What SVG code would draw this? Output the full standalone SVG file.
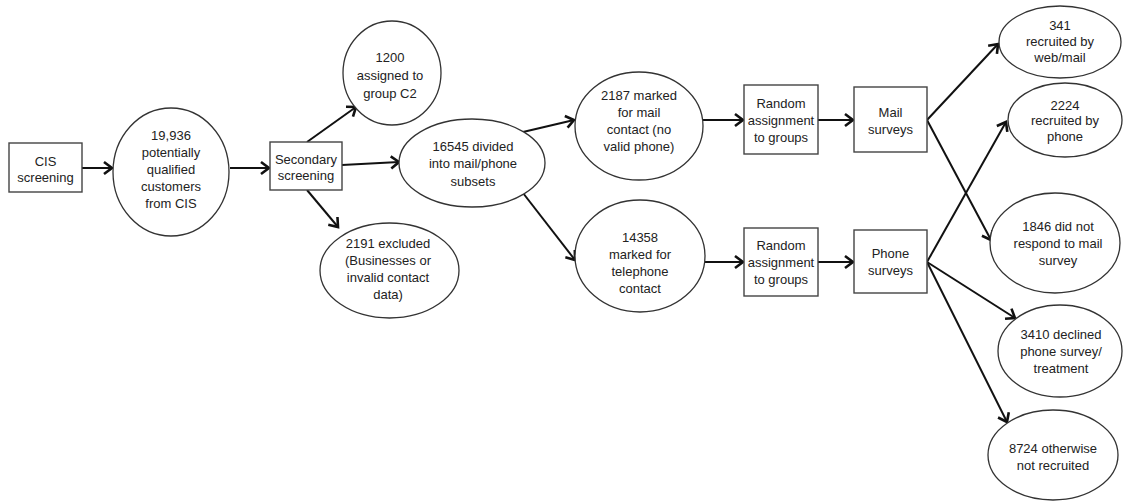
<svg xmlns="http://www.w3.org/2000/svg" width="1123" height="501" viewBox="0 0 1123 501">
<defs>
<style>
.box{fill:#fff;stroke:#444;stroke-width:1.4}
.ell{fill:#fff;stroke:#333;stroke-width:1.3}
text{font-family:"Liberation Sans",Arial,sans-serif;font-size:13px;fill:#222;text-anchor:middle}
.con{fill:none;stroke:#111;stroke-width:2;marker-end:url(#arr)}
</style>
<marker id="arr" markerUnits="userSpaceOnUse" markerWidth="14" markerHeight="16" refX="10" refY="7" orient="auto" viewBox="0 0 14 14">
<path d="M2,1 L10,7 L2,13" fill="none" stroke="#111" stroke-width="2.6" stroke-linejoin="miter"/>
</marker>
</defs>
<rect width="1123" height="501" fill="#fff"/>
<g id="connectors">
<path class="con" d="M82,168 L112,168"/>
<path class="con" d="M230,168 L269,168"/>
<path class="con" d="M307,142 L356,107"/>
<path class="con" d="M307,190 L338,227"/>
<path class="con" d="M342,165 L399,162"/>
<path class="con" d="M523,132 L574,120"/>
<path class="con" d="M523,193 L575,260"/>
<path class="con" d="M703,120 L743,120"/>
<path class="con" d="M818,120 L853,120"/>
<path class="con" d="M705,262 L743,262"/>
<path class="con" d="M818,262 L853,262"/>
<path class="con" d="M927,120 L998,44"/>
<path class="con" d="M927,120 L991,240"/>
<path class="con" d="M927,262 L1006,122"/>
<path class="con" d="M927,262 L1015,318"/>
<path class="con" d="M927,262 L1007,422"/>
</g>
<g id="cis">
<rect class="box" x="9" y="143" width="73" height="49"/>
<text x="45.5" y="166">CIS</text>
<text x="45.5" y="182">screening</text>
</g>
<g id="qualified">
<ellipse class="ell" cx="171" cy="172" rx="58" ry="64"/>
<text x="171" y="140">19,936</text>
<text x="171" y="157">potentially</text>
<text x="171" y="174">qualified</text>
<text x="171" y="191">customers</text>
<text x="171" y="208">from CIS</text>
</g>
<g id="secondary">
<rect class="box" x="270" y="142" width="72" height="48"/>
<text x="306" y="164">Secondary</text>
<text x="306" y="180">screening</text>
</g>
<g id="c2">
<ellipse class="ell" cx="392" cy="73" rx="49" ry="52"/>
<text x="390" y="62">1200</text>
<text x="390" y="80">assigned to</text>
<text x="390" y="98">group C2</text>
</g>
<g id="excluded">
<ellipse class="ell" cx="389.5" cy="270.5" rx="69.5" ry="47.5"/>
<text x="388" y="248">2191 excluded</text>
<text x="388" y="265">(Businesses or</text>
<text x="388" y="282">invalid contact</text>
<text x="388" y="299">data)</text>
</g>
<g id="divided">
<ellipse class="ell" cx="472" cy="163" rx="73" ry="44"/>
<text x="473" y="151">16545 divided</text>
<text x="473" y="168">into mail/phone</text>
<text x="473" y="186">subsets</text>
</g>
<g id="mailcontact">
<ellipse class="ell" cx="639" cy="126" rx="64" ry="54"/>
<text x="639" y="100">2187 marked</text>
<text x="639" y="117">for mail</text>
<text x="639" y="134">contact (no</text>
<text x="639" y="151">valid phone)</text>
</g>
<g id="telcontact">
<ellipse class="ell" cx="640" cy="256" rx="65" ry="56"/>
<text x="640" y="242">14358</text>
<text x="640" y="259">marked for</text>
<text x="640" y="276">telephone</text>
<text x="640" y="293">contact</text>
</g>
<g id="random1">
<rect class="box" x="744" y="85" width="74" height="69"/>
<text x="781" y="108">Random</text>
<text x="781" y="125">assignment</text>
<text x="781" y="142">to groups</text>
</g>
<g id="random2">
<rect class="box" x="744" y="228" width="74" height="68"/>
<text x="781" y="250">Random</text>
<text x="781" y="267">assignment</text>
<text x="781" y="284">to groups</text>
</g>
<g id="mail">
<rect class="box" x="854" y="87" width="73" height="65"/>
<text x="890.5" y="117">Mail</text>
<text x="890.5" y="134">surveys</text>
</g>
<g id="phone">
<rect class="box" x="854" y="230" width="73" height="63"/>
<text x="890.5" y="258">Phone</text>
<text x="890.5" y="275">surveys</text>
</g>
<g id="r341">
<ellipse class="ell" cx="1060" cy="42" rx="61" ry="36"/>
<text x="1060" y="30">341</text>
<text x="1060" y="46">recruited by</text>
<text x="1060" y="62">web/mail</text>
</g>
<g id="r2224">
<ellipse class="ell" cx="1065" cy="120" rx="57" ry="37"/>
<text x="1065" y="110">2224</text>
<text x="1065" y="125">recruited by</text>
<text x="1065" y="141">phone</text>
</g>
<g id="r1846">
<ellipse class="ell" cx="1055" cy="243" rx="65" ry="50"/>
<text x="1058" y="231">1846 did not</text>
<text x="1058" y="248">respond to mail</text>
<text x="1058" y="265">survey</text>
</g>
<g id="r3410">
<ellipse class="ell" cx="1060" cy="351" rx="62" ry="46"/>
<text x="1061" y="339">3410 declined</text>
<text x="1061" y="356">phone survey/</text>
<text x="1061" y="373">treatment</text>
</g>
<g id="r8724">
<ellipse class="ell" cx="1053" cy="455" rx="65" ry="45"/>
<text x="1053" y="453">8724 otherwise</text>
<text x="1053" y="470">not recruited</text>
</g>
</svg>
